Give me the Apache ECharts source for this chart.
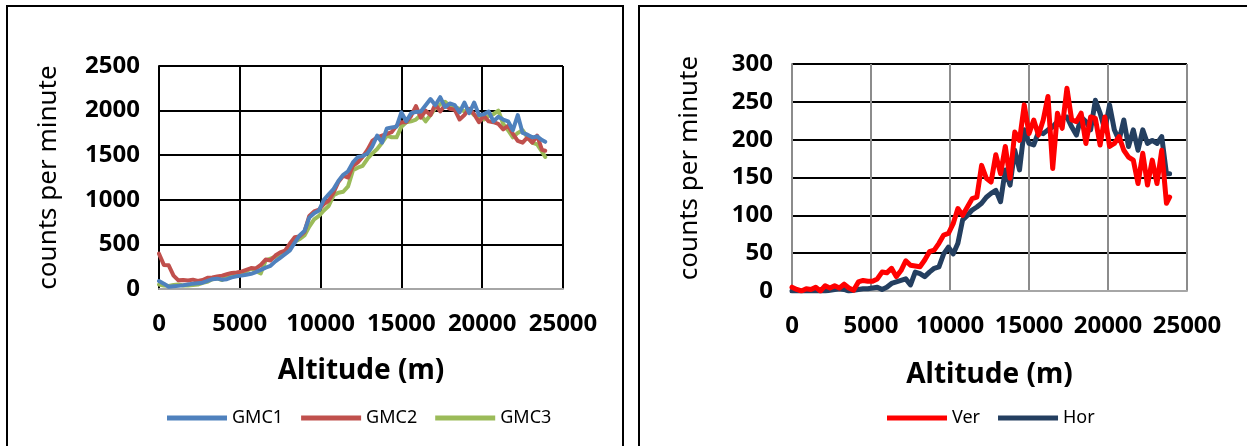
<!DOCTYPE html>
<html>
<head>
<meta charset="utf-8">
<script src="https://cdn.jsdelivr.net/npm/echarts@6/dist/echarts.min.js"></script>
<style>
  html, body { margin: 0; padding: 0; background: #fff; }
  #chart { width: 1247px; height: 446px; }
</style>
</head>
<body>
<div id="chart"></div>
<script>
// altitude (m), shared by every series
const altitude = [0, 300, 600, 900, 1200, 1500, 1800, 2100, 2400, 2700, 3000, 3300, 3600, 3900, 4200, 4500,
  4800, 5100, 5400, 5700, 6000, 6300, 6600, 6900, 7200, 7500, 7800, 8100, 8400, 8700, 9000, 9300, 9600, 9900,
  10200, 10500, 10800, 11100, 11400, 11700, 12000, 12300, 12600, 12900, 13200, 13500, 13800, 14100, 14400,
  14700, 15000, 15300, 15600, 15900, 16200, 16500, 16800, 17100, 17400, 17700, 18000, 18300, 18600, 18900,
  19200, 19500, 19800, 20100, 20400, 20700, 21000, 21300, 21600, 21900, 22200, 22500, 22800, 23100, 23400,
  23700, 23900]

// left chart, counts per minute
const gmc1 = [90, 60, 25, 30, 35, 41, 50, 60, 65, 71, 90, 110, 116, 105, 110, 130, 142, 150, 160, 170, 190,
  215, 240, 260, 310, 350, 390, 433, 520, 600, 650, 800, 850, 880, 1000, 1060, 1120, 1210, 1280, 1320, 1420,
  1480, 1490, 1520, 1600, 1720, 1640, 1800, 1810, 1820, 1980, 1880, 1970, 1985, 1990, 2060, 2130, 2060, 2150,
  2040, 2080, 2060, 1980, 2090, 1970, 2090, 1950, 1960, 1990, 1880, 1930, 1900, 1880, 1780, 1950, 1750, 1730,
  1700, 1710, 1670, 1650]
const gmc2 = [396, 270, 265, 150, 97, 100, 95, 105, 90, 100, 125, 130, 140, 150, 165, 180, 185, 195, 215, 235,
  230, 270, 330, 320, 375, 410, 430, 510, 580, 590, 640, 820, 870, 890, 950, 990, 1080, 1200, 1270, 1250, 1380,
  1420, 1480, 1560, 1660, 1700, 1720, 1740, 1760, 1830, 1870, 1870, 1940, 2050, 1920, 2000, 1950, 2070, 1990,
  2060, 2020, 2010, 1900, 1950, 2020, 1960, 1870, 1940, 1880, 1870, 1850, 1790, 1830, 1740, 1660, 1640, 1700,
  1640, 1720, 1560, 1550]
const gmc3 = [50, 40, 35, 45, 50, 40, 40, 45, 50, 70, 80, 110, 120, 100, 150, 140, 160, 175, 200, 230, 200, 175,
  320, 340, 360, 380, 400, 450, 530, 560, 600, 700, 780, 820, 880, 930, 1050, 1080, 1090, 1150, 1330, 1360,
  1380, 1460, 1520, 1570, 1640, 1720, 1700, 1700, 1820, 1870, 1880, 1900, 1950, 1880, 1950, 2030, 2070, 2100,
  2050, 2040, 2020, 1990, 2010, 1950, 1920, 1900, 1940, 1960, 2000, 1850, 1780, 1700, 1750, 1780, 1700, 1640,
  1620, 1540, 1480]

// right chart, counts per minute
const ver = [5, 2, 0, 3, 2, 5, 0, 7, 4, 7, 4, 9, 4, 1, 12, 14, 13, 13, 16, 25, 24, 30, 19, 27, 40, 34, 33, 32,
  41, 52, 54, 63, 74, 76, 89, 109, 100, 111, 122, 124, 166, 149, 144, 180, 155, 191, 149, 210, 199, 246, 208,
  226, 206, 226, 257, 162, 235, 215, 268, 226, 224, 235, 195, 230, 228, 193, 230, 191, 195, 204, 186, 177, 173,
  142, 182, 140, 173, 142, 186, 116, 124]
const hor = [0, 0, 0, 0, 0, 0, 0, 0, 1, 2, 3, 2, 0, 1, 2, 3, 3, 4, 5, 2, 5, 10, 12, 14, 16, 8, 25, 23, 19, 25,
  30, 32, 49, 58, 49, 63, 94, 100, 107, 111, 116, 124, 129, 133, 118, 160, 140, 186, 160, 213, 195, 193, 210,
  208, 213, 217, 224, 228, 230, 217, 206, 230, 224, 213, 252, 235, 213, 246, 213, 199, 226, 191, 213, 186, 213,
  195, 199, 195, 204, 155, 155]

const xTicks = { min: 0, max: 25000, interval: 5000 }
const leftY = { min: 0, max: 2500, interval: 500 }
const rightY = { min: 0, max: 300, interval: 50 }

const FONT = 'Noto Sans'
const tickLabel = { color: '#000', fontFamily: FONT, fontWeight: 'bold', fontSize: 24, formatter: v => String(v) }
const yTitle = 'counts per minute'

const pairs = (ys) => altitude.map((a, i) => [a, ys[i]])

const xAxisOf = (grid, vColor, gap) => ({
  type: 'value', gridIndex: grid, ...xTicks,
  name: 'Altitude (m)', nameLocation: 'middle', nameGap: gap,
  nameTextStyle: { color: '#000', fontFamily: FONT, fontWeight: 'bold', fontSize: 28 },
  axisLine: { show: true, onZero: false, lineStyle: { color: '#a6a6a6', width: 2 } },
  axisTick: { show: false },
  axisLabel: { ...tickLabel, margin: 23 },
  splitLine: { show: true, lineStyle: { color: vColor, width: 2 } },
})

const yAxisOf = (grid, ticks, lineColor, name, gap) => ({
  type: 'value', gridIndex: grid, ...ticks,
  name, nameLocation: 'middle', nameGap: gap,
  nameTextStyle: { color: '#000', fontFamily: FONT, fontSize: 26 },
  axisLine: { show: true, onZero: false, lineStyle: { color: lineColor, width: 2 } },
  axisTick: { show: false },
  axisLabel: { ...tickLabel, margin: 19 },
  splitLine: { show: true, lineStyle: { color: '#000', width: 2 } },
})

const lineSeries = (name, ys, color, width, grid, z) => ({
  name, type: 'line', xAxisIndex: grid, yAxisIndex: grid,
  data: pairs(ys), showSymbol: false, symbol: 'none', z,
  lineStyle: { color, width, join: 'round', cap: 'round' }, itemStyle: { color },
})

const legendOf = (names, left) => ({
  data: names, left, top: 404, icon: 'rect', itemWidth: 60, itemHeight: 5, itemGap: 18,
  textStyle: { color: '#000', fontFamily: FONT, fontSize: 18 },
  selectedMode: false,
})

const chart = echarts.init(document.getElementById('chart'))
chart.setOption({
  backgroundColor: '#fff',
  animation: false,
  graphic: [
    { type: 'rect', shape: { x: 7, y: 6, width: 616, height: 520 }, style: { fill: 'none', stroke: '#000', lineWidth: 2 } },
    { type: 'rect', shape: { x: 639, y: 6, width: 700, height: 520 }, style: { fill: 'none', stroke: '#000', lineWidth: 2 } },
    // right y title sits a little above the plot's middle
    { type: 'text', x: 690, y: 168, rotation: Math.PI / 2,
      style: { text: yTitle, fill: '#000', font: '26px "Noto Sans"', align: 'center', verticalAlign: 'middle' } },
  ],
  grid: [
    { left: 159, top: 66, width: 404, height: 223 },
    { left: 792, top: 64, width: 395, height: 227 },
  ],
  xAxis: [
    xAxisOf(0, '#000', 68),
    xAxisOf(1, '#8c8c8c', 70),
  ],
  yAxis: [
    yAxisOf(0, leftY, '#000', yTitle, 97),
    yAxisOf(1, rightY, '#8c8c8c', '', 90),
  ],
  legend: [
    legendOf(['GMC1', 'GMC2', 'GMC3'], 162),
    legendOf(['Ver', 'Hor'], 882),
  ],
  series: [
    lineSeries('GMC1', gmc1, '#4f81bd', 4, 0, 4),
    lineSeries('GMC2', gmc2, '#c0504d', 4, 0, 3),
    lineSeries('GMC3', gmc3, '#9bbb59', 4, 0, 2),
    lineSeries('Ver', ver, '#ff0000', 5, 1, 4),
    lineSeries('Hor', hor, '#243f60', 5, 1, 3),
  ],
})
</script>
</body>
</html>
